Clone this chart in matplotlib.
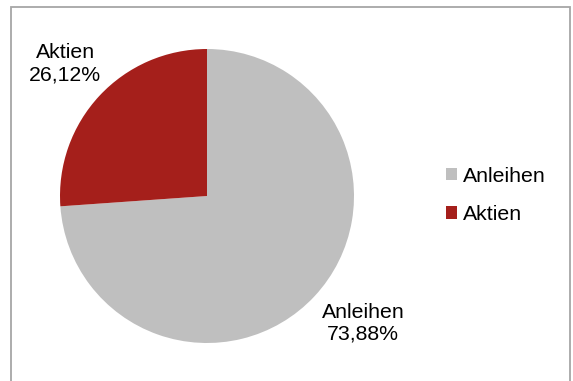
import matplotlib
matplotlib.use('Agg')
import matplotlib.pyplot as plt
from matplotlib.patches import Rectangle, Patch

# data
names = ['Anleihen', 'Aktien']
shares = [73.88, 26.12]
colors = ['#bfbfbf', '#a51f1b']

plt.rcParams['font.family'] = ['Liberation Sans', 'DejaVu Sans']

W, H = 573, 381
fig = plt.figure(figsize=(W/100, H/100), dpi=100)
ax = fig.add_axes([0, 0, 1, 1])

labels = [(n + '\n' + ('%.2f' % v).replace('.', ',') + '%') for n, v in zip(names, shares)]
wedges, texts = ax.pie(shares, colors=colors, startangle=90, counterclock=False,
                       center=(207, H-196), radius=147, labels=labels,
                       labeldistance=1.32, frame=True,
                       textprops={'fontsize': 15.3, 'color': '#000000'})
nudge = [(14, 5), (0, 0)]  # excel places the big slice label a bit off the bisector
for t, (dx, dy) in zip(texts, nudge):
    t.set_ha('center')
    t.set_va('center')
    t.set_multialignment('center')
    x, y = t.get_position()
    t.set_position((x + dx, y + dy))
ax.set_xlim(0, W)
ax.set_ylim(0, H)
ax.set_aspect('equal')
ax.axis('off')

# outer frame
ax.add_patch(Rectangle((11, -20), 559, H-7+20, fill=False, edgecolor='#a6a6a6', lw=1.3, clip_on=False))

handles = [Patch(facecolor=c, edgecolor='none') for c in colors]
fig.legend(handles, names, loc='center left', bbox_to_anchor=(446/W, 1-195.5/H),
           frameon=False, fontsize=15.3, handlelength=0.5, handleheight=0.5,
           handletextpad=0.3, labelspacing=0.9, borderpad=0, borderaxespad=0)

fig.savefig('out.png', dpi=100)
